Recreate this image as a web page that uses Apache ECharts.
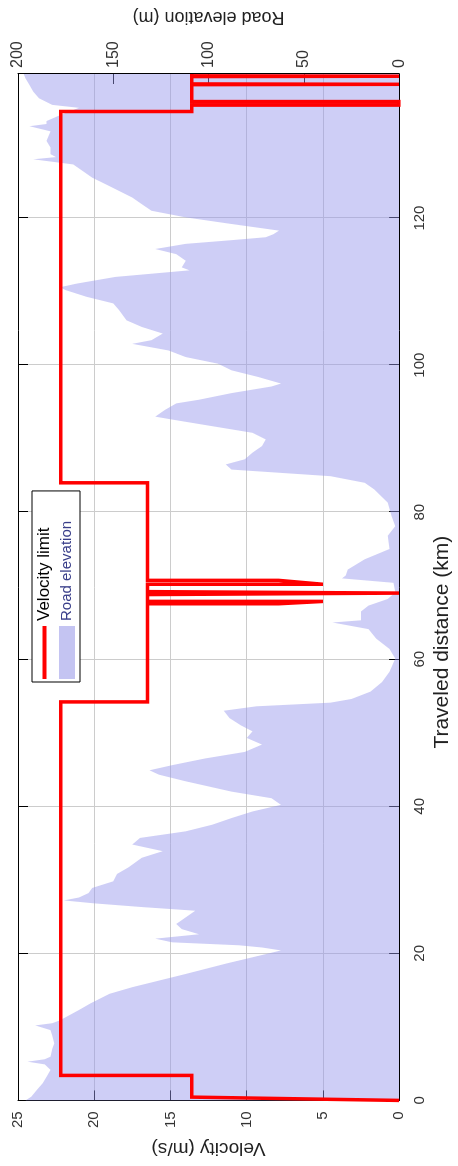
<!DOCTYPE html>
<html>
<head>
<meta charset="utf-8">
<script src="https://cdn.jsdelivr.net/npm/echarts@6/dist/echarts.min.js"></script>
<style>
  html, body { margin: 0; padding: 0; width: 458px; height: 1166px; overflow: hidden; background: #fff; }
  #chart {
    position: absolute; left: 0; top: 0;
    width: 1166px; height: 458px;
    transform-origin: 0 0;
    transform: translateY(1166px) rotate(-90deg);
  }
</style>
</head>
<body>
<div id="chart"></div>
<script>
// Road elevation profile: distance (km) and elevation (m)
const elevDist = [0, 0.5, 1.45, 2.35, 3.2, 4.15, 4.9, 5.27, 5.6, 5.95, 7.0, 7.76, 8.8, 9.56, 10.2, 10.5, 10.9, 11.6, 12.3, 13.2, 14.5, 15.4, 16.3, 17.2, 18.6, 19.9, 20.4, 20.8, 21.1, 21.5, 22.0, 22.6, 23.3, 24.0, 24.9, 25.8, 26.3, 26.8, 27.2, 27.6, 28.2, 28.9, 29.8, 30.8, 31.7, 33.0, 33.9, 34.8, 35.7, 36.6, 37.5, 38.4, 39.3, 40.2, 41.1, 42.0, 43.4, 44.3, 44.9, 45.6, 46.5, 47.4, 48.4, 49.3, 50.2, 51.0, 52.0, 53.0, 53.6, 54.1, 54.6, 55.6, 56.9, 58.3, 60.1, 61.4, 62.8, 64.1, 65.0, 65.3, 66.5, 67.3, 68.2, 69.1, 70.4, 71.0, 71.4, 72.2, 73.6, 75.0, 76.8, 78.1, 79.5, 81.3, 83.1, 84.0, 84.9, 85.8, 86.5, 87.2, 88.1, 89.0, 89.9, 90.8, 91.7, 92.6, 93.0, 93.9, 94.8, 95.3, 96.2, 97.1, 97.5, 98.4, 99.3, 100.2, 101.1, 102.0, 102.9, 103.4, 104.3, 105.2, 106.1, 107.5, 108.4, 109.3, 110.2, 110.6, 111.1, 112.0, 112.9, 113.3, 114.2, 115.1, 115.8, 116.5, 117.0, 117.4, 117.8, 118.3, 119.2, 120.1, 121.0, 121.9, 122.8, 123.7, 124.6, 125.5, 126.4, 127.3, 128.0, 128.3, 128.7, 129.6, 130.5, 131.8, 132.5, 132.8, 133.2, 134.1, 135.0, 135.4, 136.3, 137.2, 138.1, 139.0, 139.6];
const elevValue = [196, 193, 190, 187, 185, 183, 186, 195, 186, 183, 182, 181, 182, 183, 191, 182, 178, 173, 168, 162, 152, 140, 126, 112, 91, 70, 62, 72, 84, 119, 128, 105, 114, 117, 112, 107, 135, 160, 176, 168, 163, 161, 150, 148, 142, 135, 124, 140, 136, 112, 98, 88, 77, 62, 67, 88, 112, 126, 131, 119, 102, 81, 72, 80, 77, 83, 89, 92, 75, 36, 25, 15, 9, 5, 2, 5, 12, 16, 35, 20, 20, 16, 6, 2, 3, 30, 28, 27, 18, 5, 6, 2, 4, 6, 13, 18, 36, 88, 91, 81, 77, 72, 70, 77, 98, 119, 128, 123, 117, 105, 88, 67, 62, 74, 88, 95, 112, 121, 140, 130, 124, 135, 143, 147, 150, 164, 175, 178, 169, 149, 110, 114, 112, 117, 128, 112, 88, 70, 66, 63, 88, 112, 130, 135, 140, 147, 154, 161, 166, 171, 192, 180, 183, 183, 185, 183, 194, 185, 185, 177, 168, 182, 189, 192, 194, 196, 197];

// Velocity limit: distance (km) and velocity (m/s)
const velDist = [0, 0.45, 3.4, 3.4, 54.2, 54.2, 67.55, 67.55, 67.87, 67.87, 68.8, 69.0, 69.2, 70.2, 70.2, 70.73, 70.73, 84.0, 84.0, 134.5, 134.5, 135.37, 135.37, 135.85, 135.85, 138.15, 138.2, 138.25, 139.25, 139.3, 139.35, 139.6];
const velValue = [0, 13.6, 13.6, 22.2, 22.2, 16.5, 16.5, 7.9, 5.0, 16.5, 16.5, 0, 16.5, 16.5, 5.0, 7.9, 16.5, 16.5, 22.2, 22.2, 13.6, 13.6, 0, 0, 13.6, 13.6, 0, 13.6, 13.6, 0, 13.6, 13.6];

const distanceTicks = [0, 20, 40, 60, 80, 100, 120];
const velocityTicks = [0, 5, 10, 15, 20, 25];
const elevationTicks = [0, 50, 100, 150, 200];

const FONT = 'Liberation Sans, Arial, Helvetica, sans-serif';
const chart = echarts.init(document.getElementById('chart'), null, { renderer: 'canvas', width: 1166, height: 458 });

const elevData = elevDist.map((d, i) => [d, elevValue[i]]);
const velData = velDist.map((d, i) => [d, velValue[i]]);

chart.setOption({
  animation: false,
  backgroundColor: '#ffffff',
  textStyle: { fontFamily: FONT },
  grid: { left: 65, right: 68, top: 18, bottom: 57, show: false },
  legend: {
    left: 484, top: 32,
    orient: 'vertical',
    itemWidth: 53, itemHeight: 16, itemGap: 6,
    padding: [4, 30, 5, 3],
    borderColor: '#000', borderWidth: 1,
    backgroundColor: '#fff',
    symbolKeepAspect: true,
    textStyle: { fontSize: 17, color: '#000', fontFamily: FONT },
    data: [
      { name: 'Velocity limit', icon: 'path://M0,0 L53,0 L53,4 L0,4 Z' },
      { name: 'Road elevation', icon: 'rect', textStyle: { fontSize: 15, color: '#3a3f8a' } }
    ]
  },
  xAxis: [
    {
      type: 'value', position: 'bottom', min: 0, max: 139.6, interval: 20,
      name: 'Traveled distance (km)', nameLocation: 'middle', nameGap: 28,
      nameTextStyle: { fontSize: 21, color: '#222', fontFamily: FONT, padding: [0, 110, 0, 0] },
      axisLine: { show: true, onZero: false, lineStyle: { color: '#000', width: 1 } },
      axisTick: { show: true, inside: true, length: 10, lineStyle: { color: '#000' } },
      axisLabel: { margin: 13, fontSize: 15, color: '#333', showMaxLabel: false,
        formatter: v => distanceTicks.includes(v) ? String(v) : '' },
      splitLine: { show: true, lineStyle: { color: '#cccccc', width: 1 } }
    },
    {
      type: 'value', position: 'top', min: 0, max: 139.6, interval: 20,
      axisLine: { show: true, onZero: false, lineStyle: { color: '#000', width: 1 } },
      axisTick: { show: true, inside: true, length: 10, lineStyle: { color: '#000' } },
      axisLabel: { show: false },
      splitLine: { show: false }
    }
  ],
  yAxis: [
    {
      type: 'value', position: 'left', min: 0, max: 25, interval: 5,
      name: 'Velocity (m/s)', nameLocation: 'middle', nameGap: 35, nameRotate: 90,
      nameTextStyle: { fontSize: 19, color: '#222', fontFamily: FONT },
      axisLine: { show: true, onZero: false, lineStyle: { color: '#000', width: 1 } },
      axisTick: { show: true, inside: true, length: 10, lineStyle: { color: '#000' } },
      axisLabel: { margin: 11, fontSize: 15, color: '#333',
        formatter: v => velocityTicks.includes(v) ? String(v) : '' },
      splitLine: { show: true, lineStyle: { color: '#cccccc', width: 1 } }
    },
    {
      type: 'value', position: 'right', min: 0, max: 200, interval: 50,
      name: 'Road elevation (m)', nameLocation: 'middle', nameGap: 48, nameRotate: 90,
      nameTextStyle: { fontSize: 18, color: '#222', fontFamily: FONT },
      axisLine: { show: true, onZero: false, lineStyle: { color: '#000', width: 1 } },
      axisTick: { show: true, inside: true, length: 10, lineStyle: { color: '#000' } },
      axisLabel: { margin: 6, fontSize: 16, color: '#333',
        formatter: v => elevationTicks.includes(v) ? String(v) : '' },
      splitLine: { show: false }
    }
  ],
  series: [
    {
      name: 'Road elevation', type: 'line', xAxisIndex: 0, yAxisIndex: 1,
      data: elevData, symbol: 'none', z: 1,
      itemStyle: { color: '#c4c4f2' },
      lineStyle: { width: 0, color: '#c4c4f2' },
      areaStyle: { color: 'rgba(150,150,235,0.47)', opacity: 1 }
    },
    {
      name: 'Velocity limit', type: 'line', xAxisIndex: 0, yAxisIndex: 0,
      data: velData, symbol: 'none', z: 3,
      itemStyle: { color: '#ff0000' },
      lineStyle: { width: 3.5, color: '#ff0000', join: 'miter' }
    }
  ]
});
</script>
</body>
</html>
